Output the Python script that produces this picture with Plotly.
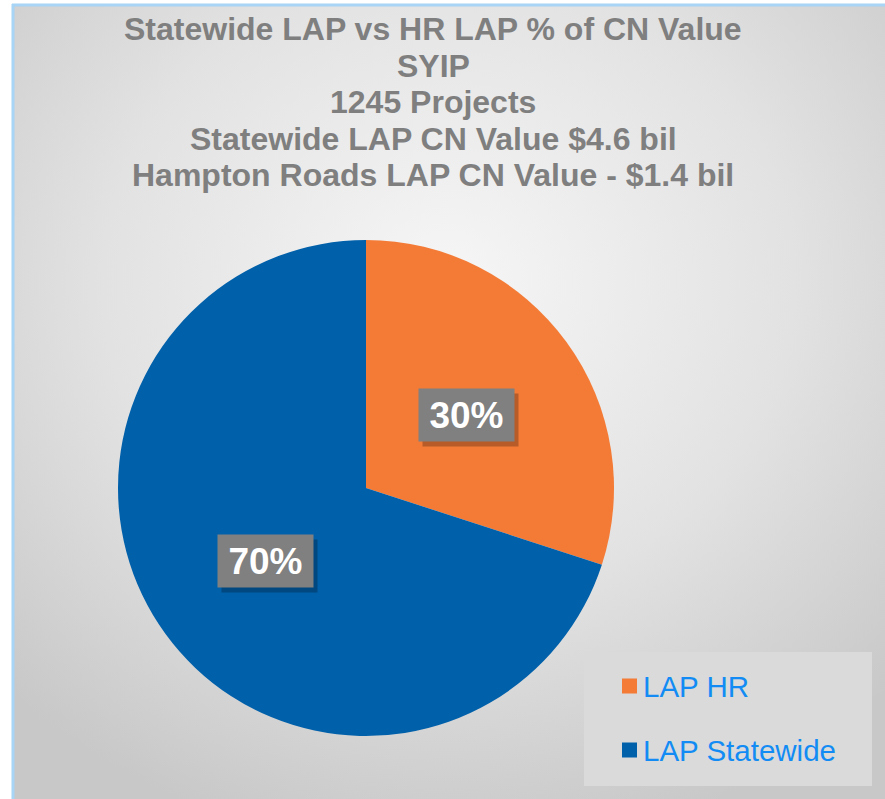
import base64, math
import plotly.graph_objects as go

# ---- data ----
labels = ["LAP HR", "LAP Statewide"]
values = [30, 70]
colors = ["#f47b36", "#0060aa"]
title_lines = [
    "Statewide LAP vs HR LAP % of CN Value",
    "SYIP",
    "1245 Projects",
    "Statewide LAP CN Value $4.6 bil",
    "Hampton Roads LAP CN Value - $1.4 bil",
]

W, H = 885, 799
# pie geometry (pixels)
CX, CY, R = 366, 488, 248

fig = go.Figure()
fig.add_trace(go.Pie(
    labels=labels, values=values, sort=False, direction="clockwise", rotation=0,
    marker=dict(colors=colors, line=dict(width=0)),
    textinfo="none", hoverinfo="label+percent", showlegend=False,
    domain=dict(x=[(CX - R) / W, (CX + R) / W], y=[(H - CY - R) / H, (H - CY + R) / H]),
))

# background gradient
svg = (f"<svg xmlns='http://www.w3.org/2000/svg' width='873' height='795' preserveAspectRatio='none'>"
       "<defs><radialGradient id='g' cx='0.5' cy='0.35' r='0.72'>"
       "<stop offset='0' stop-color='#f6f6f6'/><stop offset='0.55' stop-color='#e2e2e2'/>"
       "<stop offset='1' stop-color='#c8c8c8'/></radialGradient></defs>"
       "<rect width='873' height='795' fill='url(#g)'/></svg>")
src = "data:image/svg+xml;base64," + base64.b64encode(svg.encode()).decode()
fig.add_layout_image(dict(source=src, xref="paper", yref="paper", x=12 / W, y=1 - 4 / H,
                          sizex=1 - 12 / W, sizey=1 - 4 / H, sizing="stretch",
                          xanchor="left", yanchor="top", layer="below"))

shapes = [
    dict(type="line", xref="paper", yref="paper", x0=13 / W, x1=13 / W, y0=0, y1=1 - 4 / H,
         line=dict(color="#a8d4f5", width=3)),
    dict(type="line", xref="paper", yref="paper", x0=12 / W, x1=1, y0=1 - 5 / H, y1=1 - 5 / H,
         line=dict(color="#a8d4f5", width=3)),
    # legend box
    dict(type="rect", xref="paper", yref="paper", x0=584 / W, x1=872 / W, y0=1 - 786 / H, y1=1 - 652 / H,
         fillcolor="#dadada", line=dict(width=0), layer="below"),
]

annotations = []
title_y = [29, 65.5, 102, 138.5, 175]
for line, ty in zip(title_lines, title_y):
    annotations.append(dict(text="<b>" + line + "</b>", xref="paper", yref="paper",
                            x=433 / W, y=1 - ty / H, xanchor="center", yanchor="middle", showarrow=False,
                            font=dict(family="Liberation Sans, Arial", size=32, color="#7f7f7f")))

# data labels at half radius along slice mid-angle
total = sum(values)
cum = 0
for v in values:
    mid = (cum + v / 2) / total * 2 * math.pi
    cum += v
    px = CX + 0.5 * R * math.sin(mid)
    py = CY - 0.5 * R * math.cos(mid)
    txt = f"<b>{round(v / total * 100)}%</b>"
    annotations.append(dict(text=" ", x=(px + 4) / W, y=1 - (py + 5) / H, xref="paper", yref="paper",
                            xanchor="center", yanchor="middle",
                            showarrow=False, width=87, height=44, borderpad=4,
                            bgcolor="rgba(0,0,0,0.25)"))
    annotations.append(dict(text=txt, x=px / W, y=1 - py / H, xref="paper", yref="paper",
                            xanchor="center", yanchor="middle",
                            showarrow=False, width=87, height=44, borderpad=4, bgcolor="#808080",
                            font=dict(family="Liberation Sans, Arial", size=37, color="white")))

# legend entries
leg_y = [686, 750]
for lab, col, ly in zip(labels, colors, leg_y):
    shapes.append(dict(type="rect", xref="paper", yref="paper", x0=622 / W, x1=637 / W,
                       y0=1 - (ly + 7.5) / H, y1=1 - (ly - 7.5) / H, fillcolor=col, line=dict(width=0)))
    annotations.append(dict(text=lab, x=641 / W, y=1 - ly / H, xref="paper", yref="paper",
                            xanchor="left", yanchor="middle", showarrow=False,
                            font=dict(family="Liberation Sans, Arial", size=29.5, color="#128cf4")))

fig.update_layout(width=W, height=H, margin=dict(l=0, r=0, t=0, b=0),
                  paper_bgcolor="white", plot_bgcolor="white",
                  shapes=shapes, annotations=annotations)
fig.write_html("out.html", config={"displayModeBar": False},
               post_script="document.body.style.margin='0';document.body.style.overflow='hidden';")
